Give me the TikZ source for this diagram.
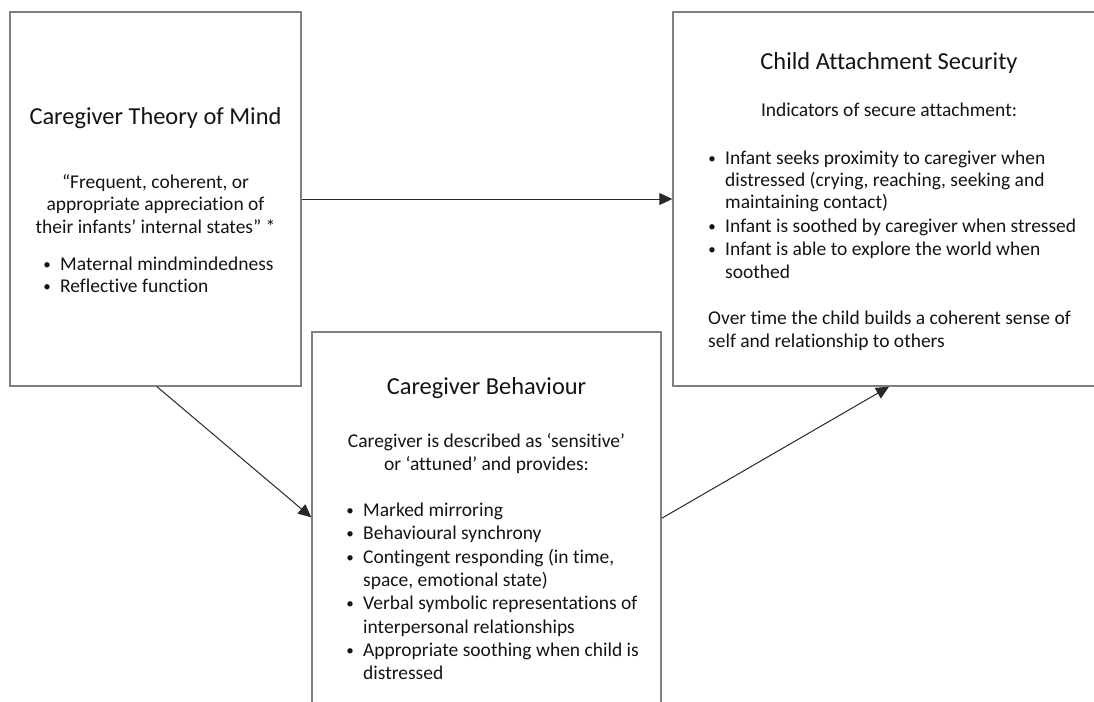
\documentclass[tikz,border=0pt]{standalone}
\usepackage{fontspec}
\setmainfont{Carlito}[Ligatures=NoCommon]
\usetikzlibrary{arrows.meta}
\definecolor{boxgrey}{RGB}{128,128,128}
\definecolor{arrgrey}{RGB}{40,40,40}
\definecolor{txt}{RGB}{20,20,20}
\begin{document}
\begin{tikzpicture}[x=1pt,y=-1pt,
  box/.style={draw=boxgrey, line width=1.4pt, inner sep=0pt},
  ttl/.style={font=\fontsize{24.4}{29}\selectfont, anchor=base, inner sep=0pt, text=txt},
  body/.style={font=\fontsize{19.5}{23}\selectfont, anchor=base, inner sep=0pt, text=txt},
  bodyl/.style={body, anchor=base west},
  dot/.style={font=\fontsize{15}{18}\selectfont, anchor=base, inner sep=0pt, text=txt},
  arr/.style={draw=arrgrey, line width=1pt, -{Triangle[length=13pt,width=12pt]}}]
\path[use as bounding box, clip] (0,0) rectangle (1094,701);
\fill[white] (0,0) rectangle (1094,701);

% boxes
\node[box, minimum width=291pt, minimum height=374pt] (L) at (155.5,199) {};
\node[box, minimum width=432pt, minimum height=374pt] (R) at (889,199) {};
\node[box, minimum width=349pt, minimum height=398pt] (B) at (486.5,531) {};

% connectors
\draw[arr] (L.east) -- (R.west);
\draw[arr] ([xshift=1.5pt]L.south) -- ([yshift=-186pt]B.north west);
\draw[arr] ([yshift=-187pt]B.north east) -- (R.south);

% left box text
\node[ttl] (Lt) at (155.5,124) {Caregiver Theory of Mind};
\node[body] (Lq1) at (155.5,188) {“Frequent, coherent, or};
\node[body] (Lq2) at (155.5,210.5) {appropriate appreciation of};
\node[body] (Lq3) at (155.5,233) {their infants’ internal states” *};
\node[dot] (Lb1d) at (47,269) {•};
\node[bodyl] (Lb1) at (60,270) {Maternal mindmindedness};
\node[dot] (Lb2d) at (47,291.5) {•};
\node[bodyl] (Lb2) at (60,292.5) {Reflective function};

% right box text
\node[ttl] (Rt) at (889,70) {Child Attachment Security};
\node[body] (Ri) at (889,116) {Indicators of secure attachment:};
\node[dot] (Rb1d) at (712,163) {•};
\node[bodyl] (Rb1a) at (725,164) {Infant seeks proximity to caregiver when};
\node[bodyl] (Rb1b) at (725,186) {distressed (crying, reaching, seeking and};
\node[bodyl] (Rb1c) at (725,208.5) {maintaining contact)};
\node[dot] (Rb2d) at (712,231) {•};
\node[bodyl] (Rb2) at (725,232) {Infant is soothed by caregiver when stressed};
\node[dot] (Rb3d) at (712,254) {•};
\node[bodyl] (Rb3a) at (725,255) {Infant is able to explore the world when};
\node[bodyl] (Rb3b) at (725,278) {soothed};
\node[bodyl] (Ro1) at (708,324) {Over time the child builds a coherent sense of};
\node[bodyl] (Ro2) at (708,347) {self and relationship to others};

% bottom box text
\node[ttl] (Bt) at (486.5,394) {Caregiver Behaviour};
\node[body] (Bi1) at (486.5,447) {Caregiver is described as ‘sensitive’};
\node[body] (Bi2) at (486.5,470) {or ‘attuned’ and provides:};
\node[dot] (Bb1d) at (350,515) {•};
\node[bodyl] (Bb1) at (363,516) {Marked mirroring};
\node[dot] (Bb2d) at (350,538) {•};
\node[bodyl] (Bb2) at (363,539) {Behavioural synchrony};
\node[dot] (Bb3d) at (350,562) {•};
\node[bodyl] (Bb3a) at (363,563) {Contingent responding (in time,};
\node[bodyl] (Bb3b) at (363,586) {space, emotional state)};
\node[dot] (Bb4d) at (350,608) {•};
\node[bodyl] (Bb4a) at (363,609) {Verbal symbolic representations of};
\node[bodyl] (Bb4b) at (363,633) {interpersonal relationships};
\node[dot] (Bb5d) at (350,655) {•};
\node[bodyl] (Bb5a) at (363,656) {Appropriate soothing when child is};
\node[bodyl] (Bb5b) at (363,679) {distressed};
\end{tikzpicture}
\end{document}
